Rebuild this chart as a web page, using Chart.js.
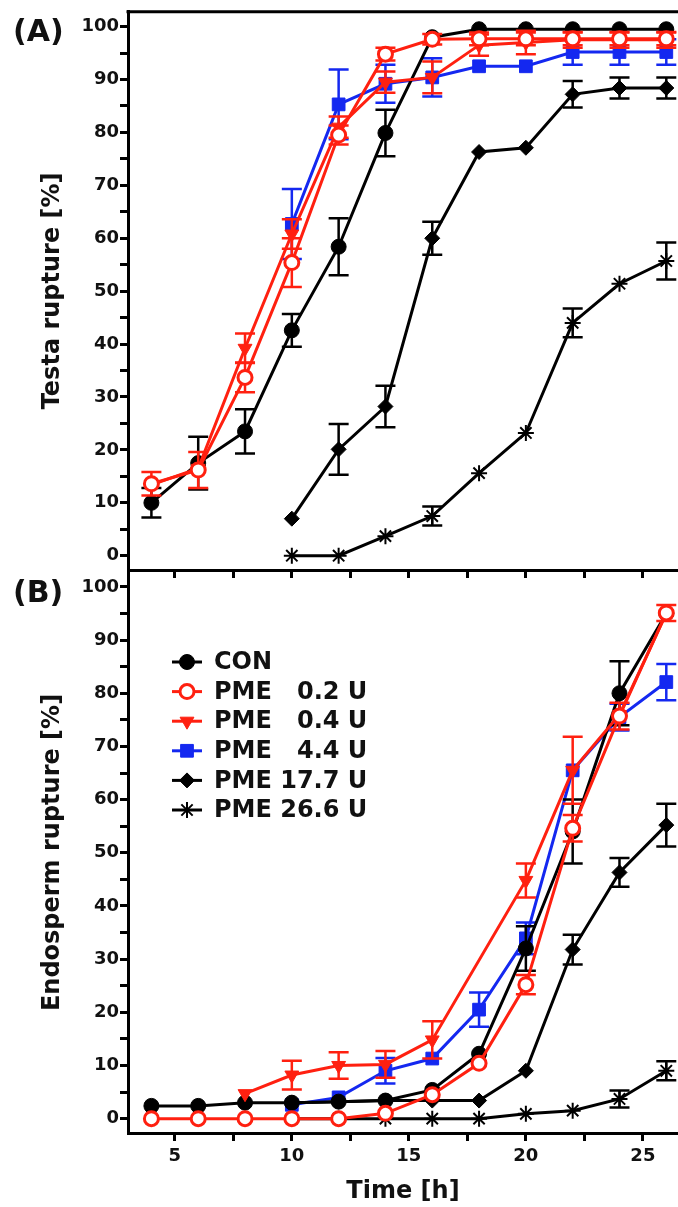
<!DOCTYPE html>
<html>
<head>
<meta charset="utf-8">
<script src="https://cdn.jsdelivr.net/npm/chart.js@4.4.1/dist/chart.umd.min.js"></script>
<style>
  html, body { margin: 0; padding: 0; background: #fff; overflow: hidden; }
  body { width: 678px; height: 1207px; position: relative; }
  canvas { position: absolute; left: 0; }
  #chartA { top: 0; }
  #chartB { top: 560px; }
  .panel { position: absolute; left: 13px; font: bold 30px "DejaVu Sans", sans-serif; color: #111; z-index: 5; line-height: 36px; }
</style>
</head>
<body>
<canvas id="chartA" width="688" height="590"></canvas>
<canvas id="chartB" width="688" height="647"></canvas>
<div class="panel" style="top:13px">(A)</div>
<div class="panel" style="top:574px">(B)</div>
<script>
// --- data ---
const times = [4, 6, 8, 10, 12, 14, 16, 18, 20, 22, 24, 26];
const xTicks = [5, 7.5, 10, 12.5, 15, 17.5, 20, 22.5, 25];
const yTicks = [0, 5, 10, 15, 20, 25, 30, 35, 40, 45, 50, 55, 60, 65, 70, 75, 80, 85, 90, 95, 100];
const seriesNames = ["CON", "PME   0.2 U", "PME   0.4 U", "PME   4.4 U", "PME 17.7 U", "PME 26.6 U"];

// (A) testa rupture [%]
const conA     = [10, 17.5, 23.5, 42.6, 58.4, 79.9, 98, 99.5, 99.5, 99.5, 99.5, 99.5];
const conAErr  = [2.8, 5, 4.2, 3.1, 5.4, 4.4, null, null, null, null, null, null];
const p02A     = [13.6, 16.2, 33.7, 55.4, 79.5, 94.8, 97.6, 97.7, 97.7, 97.7, 97.7, 97.7];
const p02AErr  = [2.2, 3.4, 2.8, 4.6, 1.8, 1.2, 1, 1.2, 1.2, 1.2, 1.2, 1.2];
const p04A     = [13.4, 16.5, 39.2, 60.8, 81, 89.5, 90.4, 96.5, 97, 97.5, 97.5, 97.5];
const p04AErr  = [null, null, 2.8, 2.8, 2, 2, 3, 2, 2.2, 1.5, 1.5, 1.5];
const p44A     = [null, null, null, 62.7, 85.3, 89.2, 90.4, 92.5, 92.5, 95.2, 95.2, 95.2];
const p44AErr  = [null, null, null, 6.6, 6.6, 3.6, 3.6, null, null, 2.4, 2.4, 2.4];
const p177A    = [null, null, null, 7, 20.1, 28.2, 60, 76.3, 77.1, 87.2, 88.4, 88.4];
const p177AErr = [null, null, null, null, 4.8, 3.9, 3.1, null, null, 2.5, 2, 2];
const p266A    = [null, null, null, 0, 0, 3.7, 7.5, 15.6, 23.2, 44, 51.4, 55.7];
const p266AErr = [null, null, null, null, null, null, 1.8, null, null, 2.7, null, 3.5];

// (B) endosperm rupture [%]
const conB     = [2.4, 2.4, 3, 3, 3.2, 3.4, 5.4, 12.2, 32, 54, 80, 95];
const conBErr  = [null, null, null, null, null, null, null, null, 4.2, 6, 6, null];
const p02B     = [0, 0, 0, 0, 0, 1, 4.5, 10.4, 25.2, 54.6, 75.7, 95.1];
const p02BErr  = [null, null, null, null, null, null, null, null, 1.8, 2.5, 2.5, 1.5];
const p04B     = [null, null, 4.7, 8.2, 10, 10.2, 14.8, null, 44.8, 65.5, 76, 95];
const p04BErr  = [null, null, null, 2.7, 2.5, 2.5, 3.5, null, 3.2, 6.3, null, null];
const p44B     = [null, null, null, 2.6, 4, 9, 11.3, 20.5, 33.9, 65.5, 75.5, 82.1];
const p44BErr  = [null, null, null, null, null, 2.4, null, 3.2, 3, null, 2.5, 3.4];
const p177B    = [null, null, null, 3, 3.2, 3.4, 3.4, 3.4, 9, 31.8, 46.3, 55.2];
const p177BErr = [null, null, null, null, null, null, null, null, null, 2.8, 2.7, 4];
const p266B    = [null, null, null, 0, 0, 0, 0, 0, 0.9, 1.5, 3.7, 9];
const p266BErr = [null, null, null, null, null, null, null, null, null, null, 1.6, 1.8];

const RED = "#ff2010", BLUE = "#1428f0", BLACK = "#000";
const FONT = "'DejaVu Sans', sans-serif";

// marker look per series (same order as seriesNames)
const styles = [
    { color: BLACK, fill: BLACK, pointStyle: "circle", radius: 7.5, bw: 1, rotation: 0, order: 2 },
    { color: RED, fill: "#fff", pointStyle: "circle", radius: 7, bw: 3, rotation: 0, order: 0 },
    { color: RED, fill: RED, pointStyle: "triangle", radius: 8, bw: 1, rotation: 180, order: 1 },
    { color: BLUE, fill: BLUE, pointStyle: "rect", radius: 9, bw: 1, rotation: 0, order: 3 },
    { color: BLACK, fill: BLACK, pointStyle: "rectRot", radius: 7.5, bw: 1, rotation: 0, order: 4 },
    { color: BLACK, fill: BLACK, pointStyle: "star", radius: 8, bw: 2, rotation: 0, order: 5 }
];

function makeDatasets(values, errors) {
    return values.map((vals, k) => {
        const s = styles[k];
        return {
            label: seriesNames[k],
            data: times.map((t, i) => ({ x: t, y: vals[i] })),
            errors: errors[k],
            borderColor: s.color,
            borderWidth: 3,
            backgroundColor: s.fill,
            pointStyle: s.pointStyle,
            pointRadius: s.radius,
            pointRotation: s.rotation,
            pointBackgroundColor: s.fill,
            pointBorderColor: s.color,
            pointBorderWidth: s.bw,
            spanGaps: true,
            tension: 0,
            order: s.order,
            clip: false
        };
    });
}

// error bars, drawn under each dataset's own line and markers
const errorBars = {
    id: "errorBars",
    beforeDatasetDraw(chart, args) {
        const ds = chart.data.datasets[args.index];
        if (!ds.errors) return;
        const ctx = chart.ctx, xs = chart.scales.x, ys = chart.scales.y;
        ctx.save();
        ctx.strokeStyle = ds.borderColor;
        ctx.lineWidth = 2.5;
        ds.data.forEach((p, i) => {
            const e = ds.errors[i];
            if (p.y == null || e == null) return;
            const px = xs.getPixelForValue(p.x);
            const top = ys.getPixelForValue(p.y + e);
            const bot = ys.getPixelForValue(p.y - e);
            ctx.beginPath();
            ctx.moveTo(px, top); ctx.lineTo(px, bot);
            ctx.moveTo(px - 10, top); ctx.lineTo(px + 10, top);
            ctx.moveTo(px - 10, bot); ctx.lineTo(px + 10, bot);
            ctx.stroke();
        });
        ctx.restore();
    }
};

// top frame line of panel A
const topFrame = {
    id: "topFrame",
    afterDraw(chart, args, opts) {
        if (!opts.show) return;
        const { ctx, chartArea } = chart;
        ctx.save();
        ctx.strokeStyle = BLACK;
        ctx.lineWidth = 3;
        ctx.beginPath();
        ctx.moveTo(chartArea.left - 1.5, chartArea.top);
        ctx.lineTo(chartArea.right, chartArea.top);
        ctx.stroke();
        ctx.restore();
    }
};

// legend inside panel B: short line with marker, then name
const innerLegend = {
    id: "innerLegend",
    afterDraw(chart, args, opts) {
        if (!opts.show) return;
        const ctx = chart.ctx;
        ctx.save();
        ctx.font = "bold 24px " + FONT;
        ctx.textBaseline = "middle";
        ctx.textAlign = "left";
        seriesNames.forEach((name, k) => {
            const s = styles[k];
            const y = opts.top + k * opts.step;
            ctx.strokeStyle = s.color;
            ctx.lineWidth = 3;
            ctx.beginPath();
            ctx.moveTo(opts.x0, y); ctx.lineTo(opts.x1, y);
            ctx.stroke();
            ctx.fillStyle = s.fill;
            ctx.lineWidth = s.bw;
            Chart.helpers.drawPoint(ctx, {
                pointStyle: s.pointStyle, rotation: s.rotation,
                radius: s.radius, borderWidth: s.bw
            }, (opts.x0 + opts.x1) / 2, y);
            ctx.fillStyle = "#111";
            ctx.fillText(name, opts.textX, y + 1);
        });
        ctx.restore();
    }
};

function makeOptions(yTitle, showXLabels, xHeight, padTop, legendOn) {
    return {
        responsive: false,
        animation: false,
        devicePixelRatio: 1,
        layout: { padding: { top: padTop, left: 0, right: 0, bottom: 0 } },
        plugins: {
            legend: { display: false },
            tooltip: { enabled: false },
            topFrame: { show: !legendOn },
            innerLegend: { show: legendOn, x0: 172, x1: 202, textX: 214, top: 102, step: 29.6 }
        },
        scales: {
            x: {
                type: "linear",
                min: 3, max: 26.5,
                afterBuildTicks: s => { s.ticks = xTicks.map(v => ({ value: v })); },
                afterFit: s => { s.height = xHeight; },
                grid: { drawOnChartArea: false, drawTicks: true, tickLength: 8, tickWidth: 3, tickColor: BLACK },
                border: { display: true, color: BLACK, width: 3 },
                ticks: {
                    display: showXLabels,
                    autoSkip: false, maxRotation: 0, padding: 5,
                    color: "#111",
                    font: { family: FONT, size: 18, weight: "bold" },
                    callback: v => (v % 5 === 0 ? v : "")
                },
                title: {
                    display: showXLabels,
                    text: "Time [h]",
                    color: "#111",
                    font: { family: FONT, size: 24, weight: "bold" },
                    padding: { top: 0, bottom: 1 }
                }
            },
            y: {
                min: -2.7, max: 102.8,
                afterBuildTicks: s => { s.ticks = yTicks.map(v => ({ value: v })); },
                afterFit: s => { s.width = 128; },
                grid: { drawOnChartArea: false, drawTicks: true, tickLength: 8, tickWidth: 3, tickColor: BLACK },
                border: { display: true, color: BLACK, width: 3 },
                ticks: {
                    padding: 1,
                    color: "#111",
                    font: { family: FONT, size: 18, weight: "bold" },
                    callback: v => (v % 10 === 0 ? v : "")
                },
                title: {
                    display: true,
                    text: yTitle,
                    color: "#111",
                    font: { family: FONT, size: 24, weight: "bold" },
                    padding: { top: 38, bottom: 0 }
                }
            }
        }
    };
}

// (A) Testa rupture
new Chart(document.getElementById("chartA"), {
    type: "line",
    data: {
        datasets: makeDatasets(
            [conA, p02A, p04A, p44A, p177A, p266A],
            [conAErr, p02AErr, p04AErr, p44AErr, p177AErr, p266AErr])
    },
    options: makeOptions("Testa rupture [%]", false, 20, 10, false),
    plugins: [errorBars, topFrame, innerLegend]
});

// (B) Endosperm rupture
new Chart(document.getElementById("chartB"), {
    type: "line",
    data: {
        datasets: makeDatasets(
            [conB, p02B, p04B, p44B, p177B, p266B],
            [conBErr, p02BErr, p04BErr, p44BErr, p177BErr, p266BErr])
    },
    options: makeOptions("Endosperm rupture [%]", true, 74, 12, true),
    plugins: [errorBars, topFrame, innerLegend]
});
</script>
</body>
</html>
